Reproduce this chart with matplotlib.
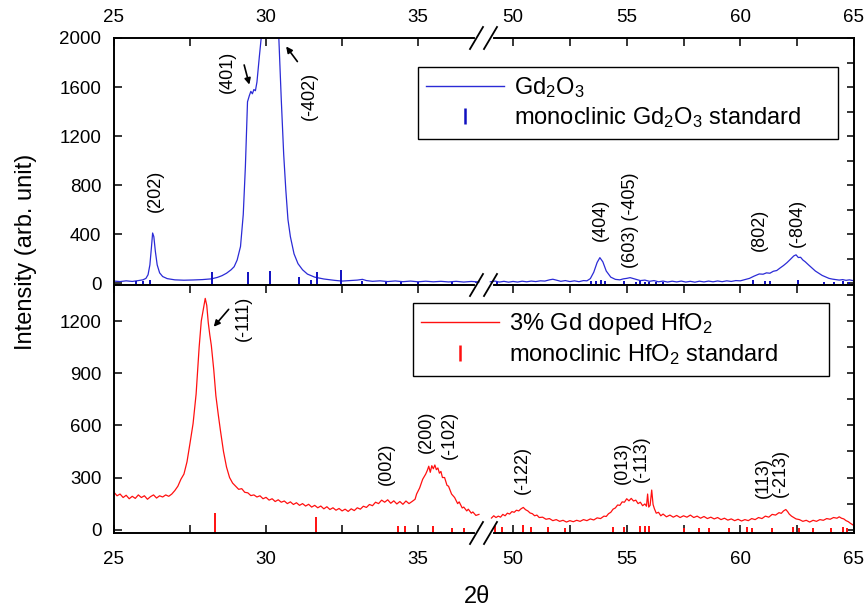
import matplotlib
matplotlib.use("Agg")
import matplotlib.pyplot as plt
from matplotlib.lines import Line2D
from matplotlib.ticker import MultipleLocator, FixedLocator

plt.rcParams["font.family"] = ["Liberation Sans", "DejaVu Sans"]
plt.rcParams["mathtext.fontset"] = "custom"
plt.rcParams["mathtext.rm"] = "Liberation Sans"
plt.rcParams["mathtext.it"] = "Liberation Sans:italic"
plt.rcParams["mathtext.default"] = "rm"

# ---- Gd2O3 pattern (top panel) ----
gd_x_lo = [25.0, 25.2, 25.4, 25.6, 25.8, 25.95, 26.05, 26.12, 26.18, 26.23, 26.27,
           26.31, 26.36, 26.42, 26.5, 26.6, 26.75, 27.0, 27.3, 27.6, 27.9, 28.2,
           28.4, 28.55, 28.7, 28.85, 28.95, 29.05, 29.16, 29.25, 29.32, 29.39, 29.45,
           29.5, 29.55, 29.6, 29.65, 29.7, 29.78, 29.86, 30.1, 30.35, 30.42, 30.5,
           30.58, 30.65, 30.72, 30.8, 30.92, 31.05, 31.2, 31.36, 31.6, 31.9, 32.25,
           32.5, 32.75, 33.0, 33.17, 33.3, 33.5, 33.75, 34.0, 34.25, 34.5, 34.75,
           35.0, 35.25, 35.5, 35.75, 36.0, 36.25, 36.5, 36.75, 37.0]
gd_y_lo = [18, 14, 20, 15, 22, 28, 40, 70, 150, 290, 410,
           380, 260, 150, 85, 55, 38, 28, 25, 27, 30, 36,
           48, 62, 82, 110, 135, 190, 300, 560, 950, 1480, 1530,
           1565, 1545, 1580, 1570, 1640, 1850, 2050, 2700, 2300, 2000, 1500,
           1050, 760, 520, 380, 240, 160, 110, 75, 50, 35, 24,
           18, 22, 26, 32, 22, 16, 20, 14, 19, 13, 18,
           12, 17, 12, 16, 11, 16, 10, 15, 11]

gd_x_hi = [49.0, 49.2, 49.4, 49.6, 49.8, 50.0, 50.2, 50.4, 50.6, 50.8, 51.0, 51.2,
           51.4, 51.6, 51.75, 51.9, 52.1, 52.3, 52.5, 52.7, 52.9, 53.1, 53.25, 53.4,
           53.55, 53.7, 53.82, 53.95, 54.1, 54.3, 54.5, 54.7, 54.85, 55.0, 55.15,
           55.3, 55.45, 55.6, 55.8, 56.0, 56.2, 56.4, 56.6, 56.8, 57.0, 57.2, 57.4,
           57.6, 57.8, 58.0, 58.2, 58.4, 58.6, 58.8, 59.0, 59.2, 59.4, 59.6, 59.8,
           60.0, 60.2, 60.4, 60.6, 60.83, 61.0, 61.15, 61.3, 61.45, 61.6, 61.75,
           61.9, 62.05, 62.2, 62.35, 62.45, 62.55, 62.65, 62.75, 62.85, 63.0, 63.15,
           63.3, 63.45, 63.6, 63.75, 63.9, 64.05, 64.2, 64.35, 64.5, 64.65, 64.8,
           64.95, 65.0]
gd_y_hi = [12, 18, 10, 16, 9, 15, 10, 17, 12, 18, 14, 20,
           18, 28, 33, 26, 16, 22, 14, 20, 13, 22, 20, 38,
           90, 170, 209, 175, 100, 50, 32, 28, 36, 40, 46,
           38, 30, 22, 26, 16, 22, 12, 18, 10, 17, 11, 18,
           10, 16, 9, 17, 11, 18, 12, 19, 13, 20, 15, 22,
           20, 30, 40, 58, 76, 74, 85, 82, 98, 104, 125,
           145, 168, 195, 223, 232, 210, 212, 190, 176, 150, 125,
           100, 82, 64, 52, 40, 34, 30, 26, 30, 24, 28,
           22, 26]

# monoclinic Gd2O3 standard sticks (position, height)
gd_std_x = [25.72, 25.97, 26.17, 28.22, 29.40, 30.13, 31.08, 31.49, 31.67, 32.48,
            33.17, 33.94, 34.44, 34.99, 36.1, 36.9,
            49.3, 53.45, 53.65, 53.85, 54.05, 54.9, 55.4, 55.6, 55.8, 56.0, 56.3,
            56.6, 60.55, 61.1, 61.3, 62.55, 63.7, 64.1, 64.5, 64.8]
gd_std_h = [20, 15, 25, 95, 90, 100, 55, 25, 95, 105,
            15, 12, 12, 10, 12, 10,
            12, 15, 20, 25, 15, 20, 12, 15, 10, 12, 10,
            8, 25, 20, 20, 30, 10, 12, 15, 12]

# ---- 3% Gd doped HfO2 pattern (bottom panel) ----
hf_x_lo = [25.0, 25.1, 25.2, 25.3, 25.4, 25.5, 25.6, 25.7, 25.8, 25.9, 26.0, 26.1,
           26.2, 26.3, 26.4, 26.5, 26.6, 26.7, 26.8, 26.9, 27.0, 27.1, 27.2, 27.3,
           27.4, 27.5, 27.6, 27.7, 27.8, 27.87, 27.93, 28.0, 28.05, 28.1, 28.15, 28.2,
           28.28, 28.35, 28.43, 28.5, 28.6, 28.7, 28.8, 28.9, 29.0, 29.1, 29.2, 29.3,
           29.4, 29.5, 29.6, 29.7, 29.8, 29.9, 30.0, 30.1, 30.2, 30.3, 30.4, 30.5,
           30.6, 30.7, 30.8, 30.9, 31.0, 31.1, 31.2, 31.3, 31.4, 31.5, 31.6, 31.7,
           31.8, 31.9, 32.0, 32.1, 32.2, 32.3, 32.4, 32.5, 32.6, 32.7, 32.8, 32.9,
           33.0, 33.1, 33.2, 33.3, 33.4, 33.5, 33.6, 33.7, 33.8, 33.9, 34.0, 34.1,
           34.2, 34.3, 34.4, 34.5, 34.6, 34.7, 34.8, 34.9, 34.95, 35.05, 35.15, 35.25,
           35.3, 35.35, 35.4, 35.45, 35.5, 35.55, 35.6, 35.65, 35.7, 35.75, 35.8,
           35.87, 35.95, 36.0, 36.1, 36.2, 36.3, 36.35, 36.45, 36.5, 36.6, 36.65,
           36.75, 36.8, 36.9, 37.0]
hf_y_lo = [215, 195, 205, 185, 198, 178, 192, 180, 200, 185, 195, 175,
           190, 200, 182, 195, 188, 200, 192, 205, 225, 250, 290, 320,
           390, 498, 610, 780, 1050, 1200, 1260, 1330, 1290, 1190, 1120, 1060,
           920, 770, 660, 570, 450, 360, 300, 268, 250, 232, 236, 215,
           212, 196, 200, 188, 195, 178, 186, 170, 178, 162, 172, 158,
           165, 150, 160, 145, 155, 140, 150, 136, 146, 130, 140, 126,
           136, 120, 132, 116, 126, 112, 122, 108, 118, 105, 120, 110,
           126, 118, 135, 128, 145, 138, 158, 150, 170, 158, 172, 152,
           166, 148, 162, 146, 165, 150, 162, 175, 205, 240, 290, 320,
           340, 365, 330, 368, 350, 372, 345, 355, 325, 335, 300,
           300, 255, 250, 205, 185, 150, 160, 125, 130, 108, 118,
           95, 102, 82, 88]

hf_x_hi = [49.05, 49.15, 49.25, 49.35, 49.45, 49.55, 49.65, 49.75, 49.85, 49.95,
           50.05, 50.15, 50.25, 50.35, 50.45, 50.55, 50.65, 50.75, 50.85, 50.95,
           51.05, 51.15, 51.3, 51.45, 51.6, 51.75, 51.9, 52.05, 52.2, 52.35, 52.5,
           52.65, 52.8, 52.95, 53.1, 53.25, 53.4, 53.55, 53.7, 53.85, 54.0, 54.1,
           54.2, 54.3, 54.4, 54.5, 54.6, 54.7, 54.8, 54.9, 55.0, 55.1, 55.2, 55.3,
           55.4, 55.5, 55.6, 55.7, 55.8, 55.87, 55.92, 55.97, 56.03, 56.1, 56.16,
           56.22, 56.3, 56.4, 56.5, 56.6, 56.75, 56.9, 57.05, 57.2, 57.35, 57.5,
           57.65, 57.8, 57.95, 58.1, 58.25, 58.4, 58.55, 58.7, 58.85, 59.0, 59.15,
           59.3, 59.45, 59.6, 59.75, 59.9, 60.05, 60.2, 60.35, 60.5, 60.65, 60.8,
           60.95, 61.1, 61.25, 61.4, 61.55, 61.7, 61.8, 61.9, 62.0, 62.08, 62.15,
           62.25, 62.35, 62.45, 62.6, 62.75, 62.9, 63.05, 63.2, 63.35, 63.5, 63.65,
           63.8, 63.95, 64.1, 64.25, 64.35, 64.45, 64.55, 64.65, 64.75, 64.85,
           64.95, 65.0]
hf_y_hi = [67, 80, 70, 78, 72, 88, 80, 95, 90, 104,
           100, 112, 108, 120, 128, 115, 108, 96, 92, 80,
           84, 70, 72, 60, 64, 52, 58, 48, 54, 44, 52,
           46, 54, 48, 58, 52, 62, 56, 68, 64, 78, 76,
           92, 100, 118, 125, 142, 140, 160, 158, 178, 166, 180, 165,
           170, 150, 158, 138, 148, 135, 205, 130, 140, 228, 145,
           120, 95, 100, 80, 90, 74, 84, 72, 82, 70, 80,
           72, 84, 70, 78, 66, 76, 64, 72, 62, 70, 58,
           66, 55, 62, 52, 60, 50, 58, 52, 64, 58, 70,
           64, 78, 72, 88, 84, 98, 94, 108, 116, 104, 90,
           78, 70, 62, 58, 48, 54, 44, 54, 48, 58, 54,
           64, 60, 70, 66, 74, 66, 62, 52, 46, 36,
           28, 22]

# monoclinic HfO2 standard sticks
hf_std_x = [28.33, 31.65, 34.33, 34.58, 35.5, 36.1, 36.5,
            49.2, 49.5, 50.45, 50.8, 51.55, 52.3, 54.4, 54.9, 55.6, 55.8, 56.0,
            57.5, 58.2, 58.6, 59.5, 60.3, 60.5, 61.4, 62.3, 62.6, 63.2, 64.0,
            64.5, 64.7]
hf_std_h = [96, 75, 20, 20, 22, 10, 8,
            20, 18, 28, 15, 15, 12, 15, 18, 20, 22, 20,
            12, 10, 12, 10, 15, 12, 12, 18, 12, 10, 12,
            15, 12]

# peak labels: (text, 2theta, intensity)
gd_labels = [("(202)", 26.35, 750), ("(401)", 28.72, 1720), ("(-402)", 31.41, 1530),
             ("(404)", 53.86, 517), ("(603) (-405)", 55.17, 510),
             ("(802)", 60.84, 435), ("(-804)", 62.5, 496)]
hf_labels = [("(-111)", 29.24, 1215), ("(002)", 33.97, 379), ("(200)", 35.26, 565),
             ("(-102)", 36.03, 547), ("(-122)", 50.42, 344), ("(013)", 54.82, 386),
             ("(-113)", 55.63, 406), ("(113)", 61.0, 297), ("(-213)", 61.78, 325)]
# arrows: (tail, head) in data units
gd_arrows = [((29.28, 1780), (29.45, 1620)), ((31.03, 1808), (30.66, 1931))]
hf_arrows = [((28.77, 1267), (28.28, 1167))]

BLUE = "#2b2bd6"
BLUE_STD = "#1010c0"
RED = "#ff1010"

TOP_YLIM = (-14, 2000)
BOT_YLIM = (-19, 1407)
LO_XLIM = (25, 37.15)
HI_XLIM = (48.7, 65)

W, H = 867, 610
fig = plt.figure(figsize=(W / 100, H / 100), dpi=100)
x0, xb, x1 = 114 / W, 483.5 / W, 854 / W
yt, ym, yb = 1 - 38 / H, 1 - 285 / H, 1 - 533 / H

ax_tl = fig.add_axes([x0, ym, xb - x0, yt - ym])
ax_tr = fig.add_axes([xb, ym, x1 - xb, yt - ym])
ax_bl = fig.add_axes([x0, yb, xb - x0, ym - yb])
ax_br = fig.add_axes([xb, yb, x1 - xb, ym - yb])

ax_tl.plot(gd_x_lo, gd_y_lo, color=BLUE, lw=0.9)
ax_tr.plot(gd_x_hi, gd_y_hi, color=BLUE, lw=0.9)
ax_bl.plot(hf_x_lo, hf_y_lo, color=RED, lw=0.9)
ax_br.plot(hf_x_hi, hf_y_hi, color=RED, lw=0.9)

for ax in (ax_tl, ax_tr):
    ax.vlines(gd_std_x, TOP_YLIM[0], gd_std_h, color=BLUE_STD, lw=1.4)
    ax.set_ylim(*TOP_YLIM)
for ax in (ax_bl, ax_br):
    ax.vlines(hf_std_x, BOT_YLIM[0], hf_std_h, color=RED, lw=1.4)
    ax.set_ylim(*BOT_YLIM)

for ax in (ax_tl, ax_bl):
    ax.set_xlim(*LO_XLIM)
    ax.xaxis.set_major_locator(FixedLocator([25, 30, 35]))
    ax.xaxis.set_minor_locator(FixedLocator([27.5, 32.5]))
    ax.spines["right"].set_visible(False)
for ax in (ax_tr, ax_br):
    ax.set_xlim(*HI_XLIM)
    ax.xaxis.set_major_locator(FixedLocator([50, 55, 60, 65]))
    ax.xaxis.set_minor_locator(FixedLocator([52.5, 57.5, 62.5]))
    ax.spines["left"].set_visible(False)

ax_tl.yaxis.set_major_locator(MultipleLocator(400))
ax_tr.yaxis.set_major_locator(MultipleLocator(200))
ax_bl.yaxis.set_major_locator(MultipleLocator(300))
ax_br.yaxis.set_major_locator(MultipleLocator(150))

for ax in (ax_tl, ax_tr, ax_bl, ax_br):
    for sp in ax.spines.values():
        sp.set_linewidth(1.4)
    ax.tick_params(which="both", direction="in", width=1.1, labelsize=13.5)
    ax.tick_params(axis="x", which="both", length=6)
    ax.tick_params(axis="y", which="both", length=6, pad=9)

for ax in (ax_tl, ax_tr):
    ax.tick_params(axis="x", which="both", top=True, bottom=False,
                   labeltop=True, labelbottom=False, pad=9)
for ax in (ax_bl, ax_br):
    ax.tick_params(axis="x", which="both", top=True, bottom=True,
                   labeltop=False, labelbottom=True, pad=13)
for ax in (ax_tl, ax_bl):
    ax.tick_params(axis="y", which="both", left=True, right=False)
for ax in (ax_tr, ax_br):
    ax.tick_params(axis="y", which="both", left=False, right=True,
                   labelleft=False, labelright=False, length=5)

for text, x, y in gd_labels:
    ax = ax_tl if x < 40 else ax_tr
    ax.text(x, y, text, rotation=90, ha="center", va="center", fontsize=13)
for text, x, y in hf_labels:
    ax = ax_bl if x < 40 else ax_br
    ax.text(x, y, text, rotation=90, ha="center", va="center", fontsize=13)

arrow_style = dict(arrowstyle="-|>", color="black", lw=1.2, mutation_scale=9,
                   shrinkA=0, shrinkB=0)
for tail, head in gd_arrows:
    ax_tl.annotate("", xy=head, xytext=tail, arrowprops=arrow_style)
for tail, head in hf_arrows:
    ax_bl.annotate("", xy=head, xytext=tail, arrowprops=arrow_style)


def add_legend(ax, color, std_color, labels, left, right, top):
    handles = [Line2D([], [], color=color, lw=1.0),
               Line2D([], [], color=std_color, marker="|", ls="none",
                      markersize=12, markeredgewidth=1.8)]
    leg = ax.legend(handles, labels, loc="upper left",
                    bbox_to_anchor=(left / W, 1 - top / H - 0.1, (right - left) / W, 0.1),
                    bbox_transform=fig.transFigure, mode="expand", borderaxespad=0,
                    fancybox=False, edgecolor="black", framealpha=1, fontsize=17,
                    handlelength=3.3, handletextpad=0.4, borderpad=0.35,
                    labelspacing=0.22)
    leg.get_frame().set_linewidth(1.0)
    return leg


add_legend(ax_tr, BLUE, BLUE_STD,
           ["Gd$_2$O$_3$", "monoclinic Gd$_2$O$_3$ standard"], 418, 838, 67)
add_legend(ax_br, RED, RED,
           ["3% Gd doped HfO$_2$", "monoclinic HfO$_2$ standard"], 413, 829, 303)

# axis break marks
for ypx in (38, 285, 533):
    gap = Line2D([(483.5 - 7) / W, (483.5 + 7) / W], [1 - ypx / H, 1 - ypx / H],
                 color="white", lw=3, transform=fig.transFigure)
    fig.add_artist(gap)
    for cx in (476.5, 490.5):
        mark = Line2D([(cx - 6.5) / W, (cx + 6.5) / W],
                      [1 - (ypx + 11) / H, 1 - (ypx - 11) / H],
                      color="black", lw=1.3, transform=fig.transFigure)
        fig.add_artist(mark)

fig.text(26 / W, 1 - 252 / H, "Intensity (arb. unit)", rotation=90,
         ha="center", va="center", fontsize=17)
fig.text(477 / W, 1 - 597 / H, "2θ", ha="center", va="center", fontsize=17)

fig.savefig("out.png", dpi=100)
